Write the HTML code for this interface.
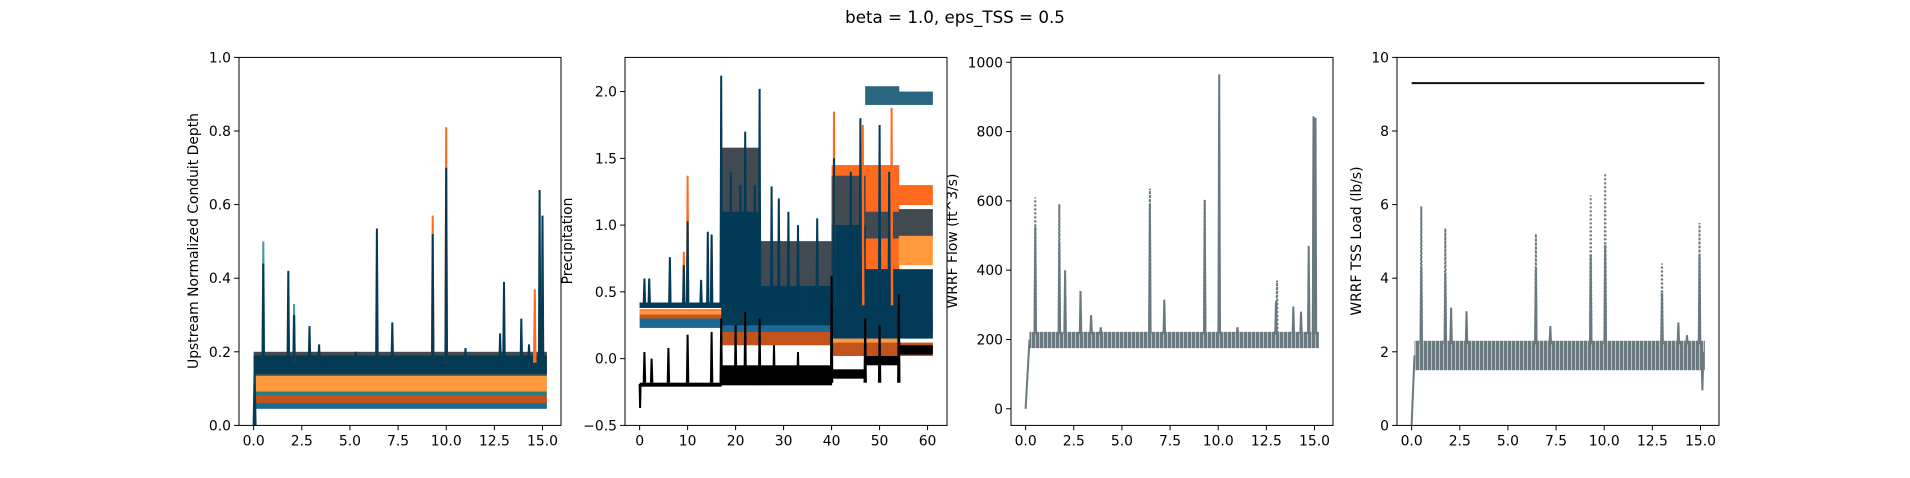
<!DOCTYPE html>
<html><head><meta charset="utf-8"><style>
html,body{margin:0;padding:0;background:#fff;}
svg{display:block;font-family:"DejaVu Sans","Liberation Sans",sans-serif;}
</style></head><body>
<svg id="fig" width="1910" height="478" viewBox="0 0 1910 478" xmlns="http://www.w3.org/2000/svg">
<defs>
<pattern id="osc" width="4" height="10" patternUnits="userSpaceOnUse"><rect width="4" height="10" fill="#6a7880"/><rect x="3" width="1" height="10" fill="#b8c0c4"/></pattern>
</defs>
<rect width="1910" height="478" fill="#fff"/>
<text x="955" y="23" font-size="16.7" text-anchor="middle">beta = 1.0, eps_TSS = 0.5</text>
<g id="labels"></g>
<g id="panels"></g>
</svg>
<script>
// ---------- DATA ----------
const p1BandT = [0, 15.2];
const p1Gray = {lo:[0.13], hi:[0.2]};
const p1Navy = {lo:[0.14], hi:[0.19]};
const p1LightOrange = {lo:[0.09], hi:[0.135]};
const p1Teal = {lo:[0.08], hi:[0.092]};
const p1DarkOrange = {lo:[0.058], hi:[0.08]};
const p1Blue = {lo:[0.045], hi:[0.06]};
const p1NavySpikeT = [0.5,1.8,2.1,2.9,3.4,5.3,6.4,7.2,9.3,10.0,11.0,12.8,13.0,13.9,14.3,14.85,15.0];
const p1NavySpikeV = [0.44,0.42,0.30,0.27,0.22,0.2,0.535,0.28,0.52,0.70,0.21,0.25,0.39,0.29,0.22,0.64,0.57];
const p1OrangeSpikeT = [9.3,10.0,14.6];
const p1OrangeSpikeV = [0.57,0.81,0.37];
const p1TealSpikeT = [0.5,2.1];
const p1TealSpikeV = [0.5,0.33];

const p2T = [0,17,25,40,47,54,61];
const p2Gray = {lo:[0.38,0.5,0.55,0.6,0.9,0.9], hi:[0.42,1.58,0.88,1.37,1.1,1.12]};
const p2Orange = {lo:[0.3,0.15,0.15,0.5,0.6,1.15], hi:[0.37,0.25,0.25,1.45,1.45,1.3]};
const p2LightOrange = {lo:[0.28,0.13,0.13,0.08,0.08,0.7], hi:[0.36,0.22,0.22,0.15,0.15,0.92]};
const p2DarkOrange = {lo:[0.3,0.1,0.1,0.02,0.02,0.02], hi:[0.33,0.25,0.25,0.12,0.12,0.12]};
const p2Blue = {lo:[0.23,0.2,0.2,0.2,0.2,0.2], hi:[0.3,0.3,0.3,0.3,0.3,0.3]};
const p2Navy = {lo:[0.38,0.25,0.25,0.15,0.15,0.15], hi:[0.42,1.1,0.55,1.0,0.67,0.67]};
const p2Teal = {lo:[null,null,null,null,1.9,1.9], hi:[null,null,null,null,2.04,2.0]};
const p2Black = {lo:[-0.21,-0.2,-0.2,-0.15,-0.05,0.03], hi:[-0.18,-0.05,-0.05,-0.08,0.02,0.1]};
const p2NavySpikeT = [1,2,6.3,9.2,10,12.8,14.2,15,17,19,21,22,24,25,27.5,29,31,33,37,40.5,44,46,50,52];
const p2NavySpikeV = [0.6,0.6,0.76,0.7,1.03,0.59,0.95,0.93,2.12,1.4,1.3,1.7,1.3,2.02,1.29,1.2,1.1,1.0,1.05,1.5,1.4,1.8,1.75,1.4];
const p2OrangeSpikeT = [9.2,10,15,40.5,46.5,52.5];
const p2OrangeSpikeV = [0.8,1.37,0.92,1.85,1.75,1.88];
const p2BlackSpikeT = [1,2.5,6,10,15,17,20,22,25,28,33,40,47,50,54];
const p2BlackSpikeV = [0.05,0.0,0.08,0.18,0.2,0.3,0.25,0.35,0.3,0.1,0.05,0.62,0.3,0.25,0.48];
const p2BlackStart = [-0.37];

const p3Band = {lo:[175], hi:[222]};
const p3RampT = [0, 0.2];
const p3RampV = [0, 200];
const p3SpikeT = [0.5,1.75,2.05,2.85,3.4,3.9,6.45,7.2,9.3,10.05,11.0,13.0,13.9,14.3,14.7,14.95,15.05];
const p3SpikeV = [525,480,400,340,270,235,590,315,600,965,235,310,295,280,470,840,840];
const p3DashT = [0.5,1.75,6.45,9.3,13.05,14.95];
const p3DashV = [610,590,635,605,370,845];

const p4Band = {lo:[1.5], hi:[2.3]};
const p4RampT = [0, 0.15];
const p4RampV = [0, 1.9];
const p4SpikeT = [0.5,1.75,2.05,2.85,6.45,7.2,9.3,10.05,13.0,13.85,14.3,14.95];
const p4SpikeV = [4.3,4.15,3.2,3.1,4.3,2.7,4.6,4.9,3.6,2.8,2.45,4.6];
const p4DashT = [0.5,1.75,6.45,9.3,10.05,13.0,14.95];
const p4DashV = [5.95,5.35,5.2,6.25,6.85,4.4,5.5];
const p4Limit = [9.3];

const xTicks15 = ["0.0","2.5","5.0","7.5","10.0","12.5","15.0"];
const xTicks60 = ["0","10","20","30","40","50","60"];
const yTicks1 = ["0.0","0.2","0.4","0.6","0.8","1.0"];
const yTicks2 = ["−0.5","0.0","0.5","1.0","1.5","2.0"];
const yTicks3 = ["0","200","400","600","800","1000"];
const yTicks4 = ["0","2","4","6","8","10"];

// ---------- RENDER ----------
const NS="http://www.w3.org/2000/svg";
const panelsG=document.getElementById('panels');
const labelsG=document.getElementById('labels');
const TOP=57.4, BOT=425.4;
function mk(tag,attrs,parent){const e=document.createElementNS(NS,tag);for(const k in attrs)e.setAttribute(k,attrs[k]);parent.appendChild(e);return e;}
function makeAxes(left,right,xmin,xmax,ymin,ymax){
  return {x:v=>left+(v-xmin)/(xmax-xmin)*(right-left), y:v=>BOT-(v-ymin)/(ymax-ymin)*(BOT-TOP), left,right};
}
function band(g,ax,T,b,color,name){
  for(let i=0;i<b.lo.length;i++){
    if(b.lo[i]===null)continue;
    const x0=ax.x(T[i]),x1=ax.x(T[i+1]);
    const r=mk('rect',{x:x0,y:ax.y(b.hi[i]),width:x1-x0+0.5,height:ax.y(b.lo[i])-ax.y(b.hi[i]),fill:color},g);
    
    
  }
}
function spikes(g,ax,T,V,base,color,w,name,dash){
  for(let i=0;i<T.length;i++){
    const pts=[[T[i]-w,base],[T[i],V[i]],[T[i]+w,base]].map(p=>ax.x(p[0]).toFixed(1)+','+ax.y(p[1]).toFixed(1)).join(' ');
    const a={points:pts,fill:'none',stroke:color,'stroke-width':2};
    if(dash)a['stroke-dasharray']='2,2';
    const l=mk('polyline',a,g);
    
    
  }
}
function line(g,ax,T,V,color,name){
  const pts=T.map((t,i)=>ax.x(t).toFixed(1)+','+ax.y(V[i]).toFixed(1)).join(' ');
  const l=mk('polyline',{points:pts,fill:'none',stroke:color,'stroke-width':2},g);
  
  
}
function axesFrame(g,ax,xVals,xLabels,yVals,yLabels,name){
  const f=mk('rect',{x:ax.left,y:TOP,width:ax.right-ax.left,height:BOT-TOP,fill:'none',stroke:'#000','stroke-width':1},g);
  
  
  xVals.forEach((v,i)=>{const x=ax.x(v);mk('line',{x1:x,x2:x,y1:BOT,y2:BOT+4.9,stroke:'#000'},g);
    const t=mk('text',{x:x,y:BOT+20,'font-size':13.9,'text-anchor':'middle'},g);t.textContent=xLabels[i];
    
    });
  yVals.forEach((v,i)=>{const y=ax.y(v);mk('line',{x1:ax.left,x2:ax.left-4.9,y1:y,y2:y,stroke:'#000'},g);
    const t=mk('text',{x:ax.left-8,y:y+5,'font-size':13.9,'text-anchor':'end'},g);t.textContent=yLabels[i];
    
    });
}
function ylabel(x,text,name){
  const t=mk('text',{x:x,y:241,'font-size':13.9,'text-anchor':'middle',transform:`rotate(-90 ${x} 241)`},labelsG);
  t.textContent=text;
  
  
}
ylabel(198,'Upstream Normalized Conduit Depth','y-axis-title-depth');
ylabel(572,'Precipitation','y-axis-title-precip');
ylabel(957,'WRRF Flow (ft^3/s)','y-axis-title-flow');
ylabel(1361,'WRRF TSS Load (lb/s)','y-axis-title-tss');

const xr=[-0.76,15.96];
{const g=mk('g',{},panelsG);
 mk('rect',{x:239,y:TOP,width:322,height:BOT-TOP,fill:'#fff'},g);
 const ax=makeAxes(239,561,xr[0],xr[1],0,1);
 band(g,ax,p1BandT,p1Gray,'#404a50','depth-gray-band');
 band(g,ax,p1BandT,p1Navy,'#053a55','depth-navy-band');
 band(g,ax,p1BandT,p1LightOrange,'#ff9a3c','depth-lightorange-band');
 band(g,ax,p1BandT,p1Teal,'#2a7d7a','depth-teal-band');
 band(g,ax,p1BandT,p1DarkOrange,'#c2531c','depth-darkorange-band');
 band(g,ax,p1BandT,p1Blue,'#1b6a96','depth-blue-band');
 spikes(g,ax,[0.05],[0.15],0,'#053a55',0.05,'depth-start');
 spikes(g,ax,p1TealSpikeT,p1TealSpikeV,0.17,'#4a9a98',0.04,'depth-teal-spike');
 spikes(g,ax,p1OrangeSpikeT,p1OrangeSpikeV,0.17,'#ff6a1f',0.04,'depth-orange-spike');
 spikes(g,ax,p1NavySpikeT,p1NavySpikeV,0.17,'#053a55',0.04,'depth-navy-spike');
 axesFrame(g,ax,[0,2.5,5,7.5,10,12.5,15],xTicks15,[0,0.2,0.4,0.6,0.8,1.0],yTicks1,'depth');}
{const g=mk('g',{},panelsG);
 mk('rect',{x:625,y:TOP,width:322,height:BOT-TOP,fill:'#fff'},g);
 const ax=makeAxes(625,947,-3.05,64.05,-0.5,2.256);
 band(g,ax,p2T,p2Orange,'#ff6a1f','precip-orange-band');
 band(g,ax,p2T,p2Gray,'#404a50','precip-gray-band');
 band(g,ax,p2T,p2LightOrange,'#ff9a3c','precip-lightorange-band');
 band(g,ax,p2T,p2DarkOrange,'#c2531c','precip-darkorange-band');
 band(g,ax,p2T,p2Blue,'#1b6a96','precip-blue-band');
 band(g,ax,p2T,p2Navy,'#033a57','precip-navy-band');
 band(g,ax,p2T,p2Teal,'#2a6680','precip-teal-band');
 band(g,ax,p2T,p2Black,'#000','precip-black-band');
 spikes(g,ax,p2OrangeSpikeT,p2OrangeSpikeV,0.4,'#ff6a1f',0.15,'precip-orange-spike');
 spikes(g,ax,p2NavySpikeT,p2NavySpikeV,0.4,'#033a57',0.15,'precip-navy-spike');
 spikes(g,ax,p2BlackSpikeT,p2BlackSpikeV,-0.18,'#000',0.15,'precip-black-spike');
 spikes(g,ax,[0.1],p2BlackStart,-0.19,'#000',0.1,'precip-black-start');
 axesFrame(g,ax,[0,10,20,30,40,50,60],xTicks60,[-0.5,0,0.5,1,1.5,2],yTicks2,'precip');}
{const g=mk('g',{},panelsG);
 const ax=makeAxes(1011,1333,xr[0],xr[1],-48,1014);
 band(g,ax,[0.2,15.2],p3Band,'url(#osc)','flow-band');
 line(g,ax,p3RampT,p3RampV,'#6a7880','flow-ramp');
 spikes(g,ax,p3DashT,p3DashV,215,'#6a7880',0.04,'flow-dashed-spike',true);
 spikes(g,ax,p3SpikeT,p3SpikeV,215,'#6a7880',0.04,'flow-spike');
 axesFrame(g,ax,[0,2.5,5,7.5,10,12.5,15],xTicks15,[0,200,400,600,800,1000],yTicks3,'flow');}
{const g=mk('g',{},panelsG);
 const ax=makeAxes(1397,1719,xr[0],xr[1],0,10);
 band(g,ax,[0.15,15.2],p4Band,'url(#osc)','tss-band');
 line(g,ax,p4RampT,p4RampV,'#6a7880','tss-ramp');
 spikes(g,ax,p4DashT,p4DashV,2.2,'#6a7880',0.04,'tss-dashed-spike',true);
 spikes(g,ax,p4SpikeT,p4SpikeV,2.2,'#6a7880',0.04,'tss-spike');
 spikes(g,ax,[15.1],[0.95],2.0,'#6a7880',0.05,'tss-dip');
 const l=mk('line',{x1:ax.x(0),x2:ax.x(15.2),y1:ax.y(p4Limit[0]),y2:ax.y(p4Limit[0]),stroke:'#111','stroke-width':2},g);
 
 
 axesFrame(g,ax,[0,2.5,5,7.5,10,12.5,15],xTicks15,[0,2,4,6,8,10],yTicks4,'tss');}
</script>
</body></html>
